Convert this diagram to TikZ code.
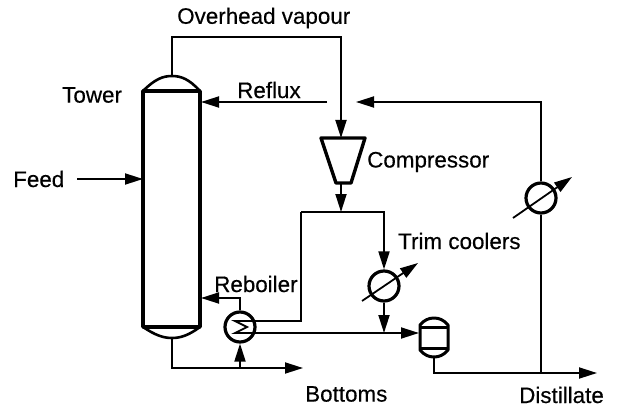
\documentclass[tikz,border=0pt]{standalone}
\usepackage{fontspec}
\setmainfont{Liberation Sans}[RawFeature={embolden=0.35}]
\usepackage{tikz}
\usetikzlibrary{arrows.meta}
\tikzset{
  label/.style={inner sep=0pt,font=\fontsize{22.4}{24}\selectfont},
  line/.style={line width=1.8pt},
  flow/.style={line width=1.8pt,-{Triangle[length=18pt,width=11pt]}},
  vessel/.style={line width=3.4pt,line join=round},
  cooler/.style={circle,draw,line width=3.2pt,minimum size=30pt,inner sep=0pt},
}
\begin{document}
\begin{tikzpicture}[x=1pt,y=-1pt]
            \useasboundingbox (0,0) rectangle (617,406);
            %%% COORDINATES %%%
            \coordinate (towerNW) at (143,91);
            \coordinate (towerNE) at (200,91);
            \coordinate (towerSW) at (143,327);
            \coordinate (towerSE) at (200,327);
            \coordinate (towerTop) at (172,76);
            \coordinate (towerBot) at (172,338);
            \coordinate (refluxIn) at (201,102);
            \coordinate (refluxEnd) at (327,102);
            \coordinate (feedEnd) at (77,179);
            \coordinate (feedIn) at (143,179);
            \coordinate (boilIn) at (201,298);
            \coordinate (compIn) at (341,138);
            \coordinate (compOut) at (341,183);
            \coordinate (split) at (341,212);
            \coordinate (drumIn) at (419,333);
            \coordinate (drumOut) at (434,357);
            \coordinate (bottomsEnd) at (303,368);
            \coordinate (distillEnd) at (597,373);
            \coordinate (returnEnd) at (356,102);

            %%% EQUIPMENT %%%
            \node[cooler] (reboiler) at (240,327) {};
            \node[cooler] (trimA) at (384,286) {};
            \node[cooler] (trimB) at (541,198) {};

            %%% TOWER %%%
            \draw[vessel] (towerSW)--(towerNW)--(towerNE)--(towerSE)--cycle;
            \draw[line width=2.6pt] (towerNW) .. controls (155,79) and (163,76) .. (towerTop) .. controls (181,76) and (189,79) .. (towerNE);
            \draw[line width=2.6pt] (towerSW) .. controls (155,335) and (163,338) .. (towerBot) .. controls (181,338) and (189,335) .. (towerSE);

            %%% COMPRESSOR %%%
            \draw[vessel] (321,138)--(365,138)--(351,183)--(336,183)--cycle;

            %%% DRUM %%%
            \draw[line width=3pt,line join=round] (420,325)--(420,350) .. controls (424,355) and (429,357) .. (drumOut) .. controls (439,357) and (444,355) .. (448,350)--(448,325) .. controls (444,320) and (439,318) .. (434,318) .. controls (429,318) and (424,320) .. cycle;
            \draw[line width=3pt] (420,327)--(448,327);
            \draw[line width=3pt] (420,348)--(448,348);

            %%% REBOILER COIL %%%
            \draw[line width=1.8pt] (255,321)--(235,321)--(247,327)--(235,333)--(255,333);

            %%% PIPES %%%
            \draw[flow] (towerTop)--(172,37)--(341,37)--(compIn);
            \draw[flow] (refluxEnd)--(refluxIn);
            \draw[flow] (feedEnd)--(feedIn);
            \draw[flow] (compOut)--(split);
            \draw[flow] (301,212)-|(trimA.north);
            \draw[line] (255,321)-|(301,212);
            \draw[flow] (reboiler.north)|-(boilIn);
            \draw[flow] (255,333)--(drumIn);
            \draw[flow] (trimA.south)--(384,333);
            \draw[flow] (towerBot)|-(bottomsEnd);
            \draw[flow] (240,368)--(reboiler.south);
            \draw[flow] (drumOut)|-(distillEnd);
            \draw[line] (541,373)--(trimB.south);
            \draw[flow] (trimB.north)|-(returnEnd);

            %%% CONTROL ARROWS %%%
            \draw[flow] (362,301)--(418,263);
            \draw[flow] (513,218)--(572,177);

            %%% LABELS %%%
            \node[label,anchor=west] (overhead) at (177,18) {Overhead vapour};
            \node[label,anchor=west] (refluxLabel) at (237,90) {Reflux};
            \node[label,anchor=west] (towerLabel) at (62,95) {Tower};
            \node[label,anchor=west] (feedLabel) at (13,179) {Feed};
            \node[label,anchor=west] (compressorLabel) at (367,162) {Compressor};
            \node[label,anchor=west] (trimLabel) at (398,241) {Trim coolers};
            \node[label,anchor=west] (reboilerLabel) at (214,284) {Reboiler};
            \node[label,anchor=west] (bottomsLabel) at (305,394) {Bottoms};
            \node[label,anchor=west] (distillateLabel) at (519,395) {Distillate};
        \end{tikzpicture}
\end{document}
